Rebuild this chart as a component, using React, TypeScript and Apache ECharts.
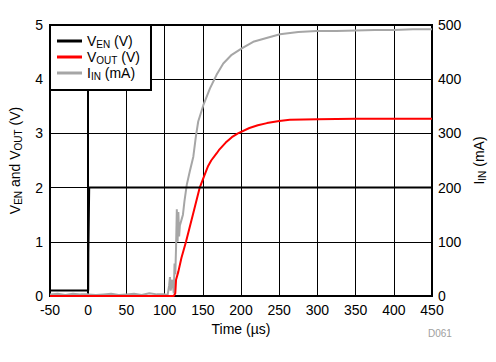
import React, { useEffect, useRef } from "react";
import * as echarts from "echarts";

// Time axis ticks (µs)
const timeTicks = [-50, 0, 50, 100, 150, 200, 250, 300, 350, 400, 450];

// V_EN (V)
const venT = [-50, 0, 0.2, 1.0, 1.3, 450];
const venV = [0.1, 0.1, 0.8, 0.8, 2.0, 2.0];

// V_OUT (V)
const voutT = [-50, 0, 50, 100, 112, 114, 115, 118, 122, 128, 137, 146, 152, 157, 161, 168, 171, 180, 188, 196, 211, 222, 234, 250, 264, 300, 350, 400, 450];
const voutV = [0, 0, 0, 0, 0, 0.05, 0.3, 0.45, 0.7, 1.0, 1.5, 2.0, 2.22, 2.4, 2.5, 2.63, 2.69, 2.83, 2.93, 3.0, 3.1, 3.15, 3.19, 3.23, 3.25, 3.26, 3.27, 3.27, 3.27];

// I_IN (mA)
const iinT = [-50, -40, -30, -20, -10, 0, 10, 20, 30, 40, 50, 60, 70, 80, 90, 100, 104, 106, 107, 108, 110, 112, 113, 114, 115, 116, 117, 118, 119, 120, 122, 124, 126, 129, 133, 137.6, 141, 144, 150.7, 159.4, 168, 176.8, 187.8, 201, 216, 235.7, 251, 275, 299, 325, 350, 375, 400, 425, 450];
const iinV = [3, 4, 2, 4, 3, 3, 2, 3, 4, 2, 3, 4, 2, 5, 3, 3, 2, 20, 35, 10, 30, 5, 60, 40, 90, 160, 100, 155, 110, 130, 140, 150, 175, 205, 230, 257, 295, 322, 352, 383, 408, 429, 445, 457, 469, 477, 483, 487, 489, 489, 490, 491, 491, 492, 492];

const zip = (t: number[], v: number[]) => t.map((x, i) => [x, v[i]]);

const FONT = "'Liberation Sans', Arial, sans-serif";

const rich = {
  m: { fontSize: 14, lineHeight: 16, fontFamily: FONT, color: "#000", verticalAlign: "middle" },
  s: { fontSize: 10, lineHeight: 10, fontFamily: FONT, color: "#000", verticalAlign: "bottom" },
};

export default function App() {
  const ref = useRef<HTMLDivElement>(null);
  useEffect(() => {
    if (!ref.current) return;
    const chart = echarts.init(ref.current, undefined, { renderer: "svg" });
    const legendNames: Record<string, string> = {
      VEN: "{m|V}{s|EN}{m| (V)}",
      VOUT: "{m|V}{s|OUT}{m| (V)}",
      IIN: "{m|I}{s|IN}{m| (mA)}",
    };
    chart.setOption({
      animation: false,
      backgroundColor: "#fff",
      textStyle: { fontFamily: FONT },
      grid: {
        left: 50,
        right: 64,
        top: 25,
        bottom: 66,
        show: true,
        borderColor: "#000",
        borderWidth: 2,
        backgroundColor: "transparent",
      },
      legend: {
        data: ["VEN", "VOUT", "IIN"],
        orient: "vertical",
        left: 50,
        top: 25,
        icon: "rect",
        itemWidth: 25,
        itemHeight: 3,
        itemGap: 1,
        padding: [9, 11, 9, 7],
        borderColor: "#000",
        borderWidth: 2,
        borderRadius: 0,
        backgroundColor: "#fff",
        z: 10,
        formatter: (name: string) => legendNames[name],
        textStyle: { rich, fontSize: 14, color: "#000", fontFamily: FONT },
      },
      xAxis: {
        type: "value",
        min: timeTicks[0],
        max: timeTicks[timeTicks.length - 1],
        interval: 50,
        name: "Time (µs)",
        nameLocation: "middle",
        nameGap: 25,
        nameTextStyle: { fontSize: 14, color: "#000", fontFamily: FONT },
        axisLine: { show: true, onZero: false, lineStyle: { color: "#000", width: 2 } },
        axisTick: { show: false },
        axisLabel: { fontSize: 14, color: "#000", margin: 7, fontFamily: FONT },
        splitLine: { show: true, lineStyle: { color: "#000", width: 1 } },
      },
      yAxis: [
        {
          type: "value",
          min: 0,
          max: 5,
          interval: 1,
          name: "{m|V}{s|EN}{m| and V}{s|OUT}{m| (V)}",
          nameLocation: "middle",
          nameRotate: 90,
          nameGap: 27,
          nameTextStyle: { rich, fontSize: 14, color: "#000" },
          axisLine: { show: true, lineStyle: { color: "#000", width: 2 } },
          axisTick: { show: false },
          axisLabel: { fontSize: 14, color: "#000", margin: 7, fontFamily: FONT },
          splitLine: { show: true, lineStyle: { color: "#000", width: 1 } },
        },
        {
          type: "value",
          min: 0,
          max: 500,
          interval: 100,
          position: "right",
          name: "{m|I}{s|IN}{m| (mA)}",
          nameLocation: "middle",
          nameRotate: 90,
          nameGap: 38,
          nameTextStyle: { rich, fontSize: 14, color: "#000" },
          axisLine: { show: true, lineStyle: { color: "#000", width: 2 } },
          axisTick: { show: false },
          axisLabel: { fontSize: 14, color: "#000", margin: 6, fontFamily: FONT },
          splitLine: { show: false },
        },
      ],
      graphic: [
        {
          type: "text",
          left: 428,
          top: 328,
          style: { text: "D061", fontSize: 10, fill: "#a0a0a0", fontFamily: FONT },
        },
      ],
      series: [
        {
          name: "IIN",
          type: "line",
          yAxisIndex: 1,
          data: zip(iinT, iinV),
          symbol: "none",
          lineStyle: { color: "#a6a6a6", width: 2 },
          itemStyle: { color: "#a6a6a6" },
          z: 2,
        },
        {
          name: "VOUT",
          type: "line",
          yAxisIndex: 0,
          data: zip(voutT, voutV),
          symbol: "none",
          lineStyle: { color: "#ff0000", width: 2 },
          itemStyle: { color: "#ff0000" },
          z: 3,
        },
        {
          name: "VEN",
          type: "line",
          yAxisIndex: 0,
          data: zip(venT, venV),
          symbol: "none",
          lineStyle: { color: "#000", width: 2 },
          itemStyle: { color: "#000" },
          z: 4,
        },
      ],
    });
    return () => chart.dispose();
  }, []);
  return <div ref={ref} style={{ width: 496, height: 362, position: "absolute", left: 0, top: 0 }} />;
}
